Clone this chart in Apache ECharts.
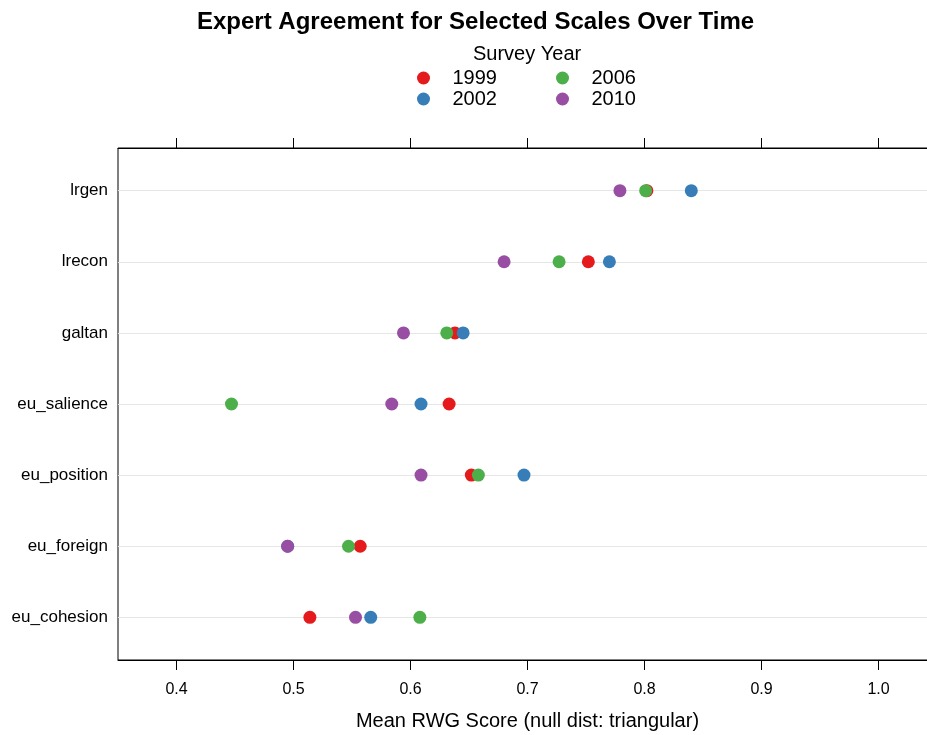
<!DOCTYPE html>
<html lang="en">
<head>
<meta charset="UTF-8">
<title>Expert Agreement</title>
<script src="https://cdn.jsdelivr.net/npm/echarts@6/dist/echarts.min.js"></script>
<style>
  html, body { margin: 0; padding: 0; background: #fff; }
  #chart { width: 927px; height: 735px; }
</style>
</head>
<body>
<div id="chart"></div>
<script>
  // scales, bottom to top
  var scales = ['eu_cohesion', 'eu_foreign', 'eu_position', 'eu_salience', 'galtan', 'lrecon', 'lrgen']
  var years = ['1999', '2002', '2006', '2010']
  var rwg1999 = [0.514, 0.557, 0.652, 0.633, 0.638, 0.752, 0.802]
  var rwg2002 = [0.566, 0.495, 0.697, 0.609, 0.645, 0.770, 0.840]
  var rwg2006 = [0.608, 0.547, 0.658, 0.447, 0.631, 0.727, 0.801]
  var rwg2010 = [0.553, 0.495, 0.609, 0.584, 0.594, 0.680, 0.779]
  var xTicks = [0.4, 0.5, 0.6, 0.7, 0.8, 0.9, 1.0]
  var colors = ['#E41A1C', '#377EB8', '#4DAF4A', '#984EA3']

  var font = 'Liberation Sans, Arial, sans-serif'
  var allValues = [rwg1999, rwg2002, rwg2006, rwg2010]
  var rowIdx = scales.map(function(s, i) { return i })

  var series = years.map(function(yr, k) {
    var s = {
      name: yr,
      type: 'scatter',
      symbol: 'circle',
      symbolSize: 13,
      z: 10,
      itemStyle: { color: colors[k], opacity: 1 },
      data: allValues[k].map(function(v, i) { return [v, i] })
    }
    if (k === 0) {
      // light horizontal guide line for each scale
      s.markLine = {
        silent: true,
        z: 1,
        symbol: ['none', 'none'],
        label: { show: false },
        lineStyle: { color: '#e6e6e6', type: 'solid', width: 1 },
        data: rowIdx.map(function(i) { return { yAxis: i } })
      }
    }
    return s
  })

  var legendCommon = {
    orient: 'vertical',
    icon: 'circle',
    itemWidth: 48,
    itemHeight: 13,
    itemGap: 1,
    textStyle: { fontFamily: font, fontSize: 20, color: '#000', lineHeight: 20 }
  }

  var myChart = echarts.init(document.getElementById('chart'), null, { renderer: 'canvas' })
  var option = {
    animation: false,
    backgroundColor: '#fff',
    title: [
      {
        text: 'Expert Agreement for Selected Scales Over Time',
        left: 192, top: 5,
        textStyle: { fontFamily: font, fontSize: 24, fontWeight: 'bold', color: '#000' }
      },
      {
        text: 'Survey Year',
        left: 468, top: 39,
        textStyle: { fontFamily: font, fontSize: 20, fontWeight: 'normal', color: '#000' }
      }
    ],
    legend: [
      Object.assign({ data: ['1999', '2002'], left: 412, top: 63 }, legendCommon),
      Object.assign({ data: ['2006', '2010'], left: 551, top: 63 }, legendCommon)
    ],
    grid: {
      left: 118, top: 148, width: 819, height: 512,
      outerBoundsMode: 'none',
      show: true, borderColor: '#000', borderWidth: 1
    },
    xAxis: [
      {
        type: 'value', position: 'bottom', min: 0.35, max: 1.05,
        name: 'Mean RWG Score (null dist: triangular)',
        nameLocation: 'middle', nameGap: 51,
        nameTextStyle: { fontFamily: font, fontSize: 20, color: '#000' },
        axisLine: { onZero: false, lineStyle: { color: '#000' } },
        axisTick: { show: true, length: 10, customValues: xTicks, lineStyle: { color: '#000' } },
        axisLabel: {
          customValues: xTicks, margin: 22,
          fontFamily: font, fontSize: 16, color: '#000',
          formatter: function(v) { return v.toFixed(1) }
        },
        splitLine: { show: false }
      },
      {
        type: 'value', position: 'top', min: 0.35, max: 1.05,
        axisLine: { onZero: false, lineStyle: { color: '#000' } },
        axisTick: { show: true, length: 10, customValues: xTicks, lineStyle: { color: '#000' } },
        axisLabel: { show: false },
        splitLine: { show: false }
      }
    ],
    yAxis: {
      type: 'value', min: -0.6, max: 6.6,
      axisLine: { show: false },
      axisTick: { show: false },
      splitLine: { show: false },
      axisLabel: {
        customValues: rowIdx, margin: 10,
        fontFamily: font, fontSize: 17, color: '#000',
        formatter: function(v) { return scales[Math.round(v)] }
      }
    },
    series: series
  }
  myChart.setOption(option)
  window.addEventListener('resize', myChart.resize)
</script>
</body>
</html>
